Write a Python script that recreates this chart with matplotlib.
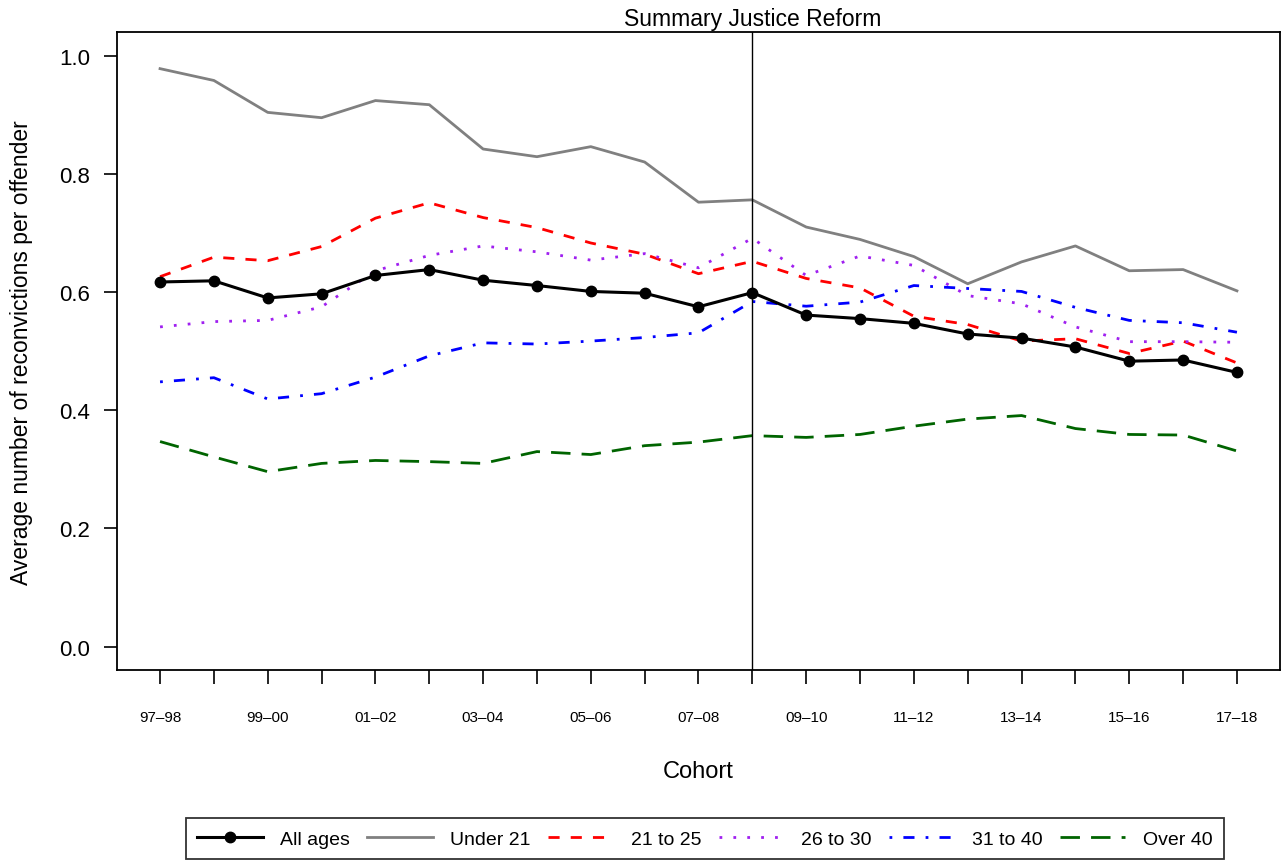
import matplotlib
matplotlib.use("Agg")
import matplotlib.pyplot as plt
import numpy as np

plt.rcParams['font.family'] = ['Liberation Sans', 'DejaVu Sans']

cohorts = ["97–98", "98–99", "99–00", "00–01", "01–02", "02–03", "03–04",
           "04–05", "05–06", "06–07", "07–08", "08–09", "09–10", "10–11",
           "11–12", "12–13", "13–14", "14–15", "15–16", "16–17", "17–18"]

all_ages = [0.617, 0.619, 0.590, 0.597, 0.628, 0.638, 0.620, 0.611, 0.601, 0.598,
            0.575, 0.599, 0.561, 0.555, 0.547, 0.529, 0.522, 0.507, 0.483, 0.485, 0.464]
under21 = [0.978, 0.958, 0.904, 0.895, 0.924, 0.917, 0.842, 0.829, 0.846, 0.820,
           0.752, 0.756, 0.710, 0.689, 0.660, 0.614, 0.651, 0.678, 0.636, 0.638, 0.602]
age21_25 = [0.626, 0.659, 0.653, 0.677, 0.725, 0.751, 0.726, 0.709, 0.683, 0.664,
            0.631, 0.652, 0.623, 0.607, 0.559, 0.545, 0.517, 0.521, 0.496, 0.517, 0.480]
age26_30 = [0.541, 0.550, 0.552, 0.575, 0.636, 0.662, 0.678, 0.668, 0.654, 0.665,
            0.641, 0.691, 0.628, 0.661, 0.645, 0.594, 0.580, 0.541, 0.516, 0.516, 0.515]
age31_40 = [0.448, 0.455, 0.419, 0.428, 0.456, 0.492, 0.514, 0.512, 0.517, 0.523,
            0.531, 0.584, 0.576, 0.583, 0.611, 0.606, 0.601, 0.574, 0.552, 0.548, 0.532]
over40 = [0.347, 0.321, 0.296, 0.310, 0.315, 0.313, 0.310, 0.330, 0.325, 0.340,
          0.346, 0.357, 0.354, 0.359, 0.373, 0.385, 0.391, 0.369, 0.359, 0.358, 0.331]

reform_index = 11
x = np.arange(len(cohorts))

fig = plt.figure(figsize=(12.84, 8.62), dpi=100)
ax = fig.add_axes([0.0911, 0.2213, 0.9058, 0.7404])

ax.plot(x, all_ages, color="black", lw=2.2, marker="o", ms=7.5, label="All ages", zorder=5)
ax.plot(x, under21, color="#808080", lw=2.0, label="Under 21")
ax.plot(x, age21_25, color="red", lw=2.0, dashes=(4, 4), label="21 to 25")
ax.plot(x, age26_30, color="#A020F0", lw=2.0, dashes=(1, 4), label="26 to 30")
ax.plot(x, age31_40, color="blue", lw=2.0, dashes=(1, 4, 4, 4), label="31 to 40")
ax.plot(x, over40, color="#006400", lw=2.0, dashes=(7, 4), label="Over 40")

# reform marker
ax.axvline(reform_index, color="black", lw=1.0)
ax.text(reform_index, 1.044, "Summary Justice Reform", ha="center", va="bottom",
        fontsize=16.5)

ax.set_xlim(-0.8, 20.8)
ax.set_ylim(-0.04, 1.04)
ax.set_yticks(np.arange(0, 1.01, 0.2))
ax.set_yticklabels(["0.0", "0.2", "0.4", "0.6", "0.8", "1.0"], fontsize=16)
ax.set_xticks(x)
ax.set_xticklabels([c if i % 2 == 0 else "" for i, c in enumerate(cohorts)], fontsize=11)
ax.tick_params(axis="x", length=10, width=1.2, pad=18.5)
ax.tick_params(axis="y", length=9.5, width=1.2, pad=10)
for s in ax.spines.values():
    s.set_linewidth(1.3)

ax.set_xlabel("Cohort", fontsize=17, labelpad=26)
ax.set_ylabel("Average number of reconvictions per offender", fontsize=16.5, labelpad=19)

leg = fig.legend(loc="lower center", bbox_to_anchor=(0.549, 0.002), ncol=6, fontsize=14,
                 frameon=True, fancybox=False, edgecolor="black", handlelength=3.35,
                 columnspacing=0.9, handletextpad=0.9, borderpad=0.6, borderaxespad=0)
leg.get_frame().set_linewidth(1.3)

fig.savefig("out.png", dpi=100)
